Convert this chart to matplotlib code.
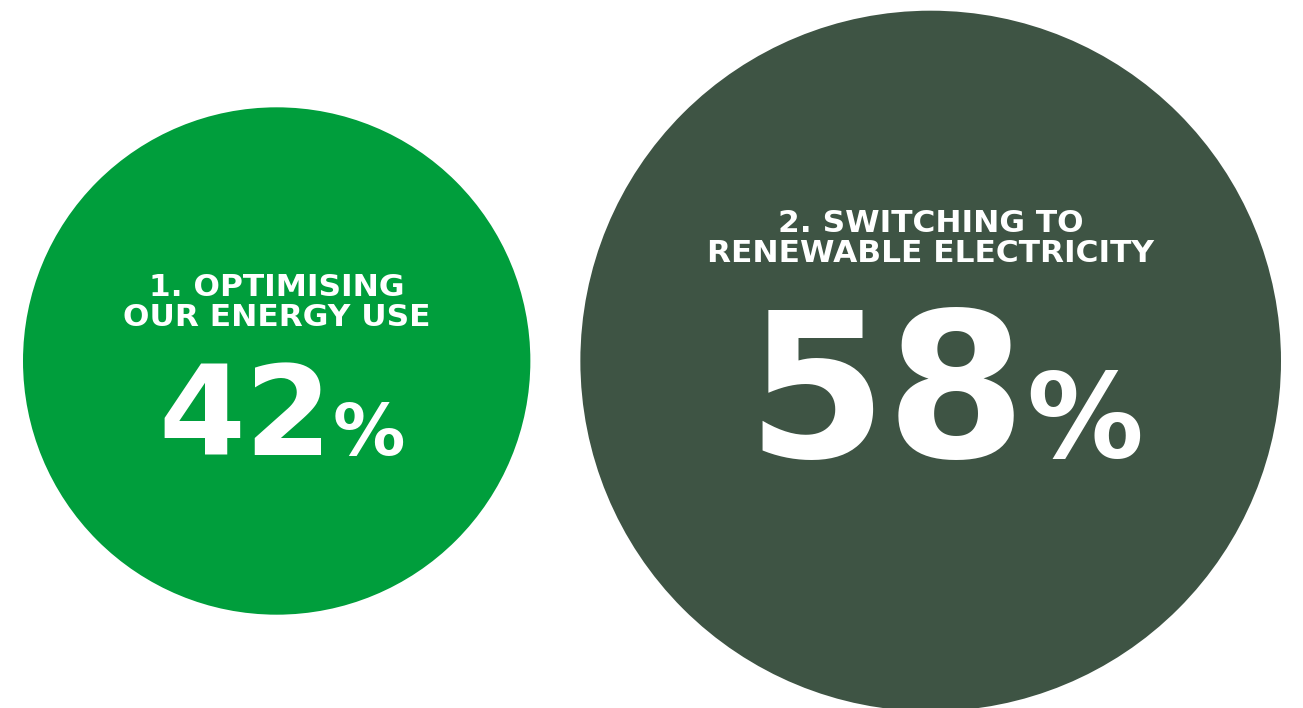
import matplotlib
matplotlib.use("Agg")
import matplotlib.pyplot as plt
from matplotlib.patches import Circle

# Share of emission reductions by lever
labels = ["1. OPTIMISING\nOUR ENERGY USE", "2. SWITCHING TO\nRENEWABLE ELECTRICITY"]
values = [42, 58]
colors = ["#009E3C", "#3E5444"]

W, H, DPI = 1303, 708, 100
fig = plt.figure(figsize=(W / DPI, H / DPI), dpi=DPI)
ax = fig.add_axes([0, 0, 1, 1])
ax.set_xlim(0, W)
ax.set_ylim(H, 0)
ax.set_aspect("equal")
ax.axis("off")

# bubble radius is proportional to the value
px_per_unit = 6.04
margin, gap, cy = 23, 50, 361

heading_pt = [22.5, 22.5]
number_pt = [90, 145]
pct_pt = [52, 84]
heading_dy = [(-74, -43), (-138, -107)]
baseline_dy = [94, 96]
split_dx = [56, 96]

x_left = margin
for i, (lab, val, col) in enumerate(zip(labels, values, colors)):
    r = val * px_per_unit
    cx = x_left + r
    ax.add_patch(Circle((cx, cy), r, facecolor=col, edgecolor="none"))

    for line, dy in zip(lab.split("\n"), heading_dy[i]):
        ax.text(cx, cy + dy, line, ha="center", va="center", color="white",
                fontsize=heading_pt[i], fontweight="bold", family="DejaVu Sans")

    sx = cx + split_dx[i]
    by = cy + baseline_dy[i]
    ax.text(sx, by, f"{val}", ha="right", va="baseline", color="white",
            fontsize=number_pt[i], fontweight="bold", family="DejaVu Sans")
    ax.text(sx, by, "%", ha="left", va="baseline", color="white",
            fontsize=pct_pt[i], fontweight="bold", family="DejaVu Sans")

    x_left = cx + r + gap

fig.savefig("out.png", dpi=DPI, facecolor="white")
